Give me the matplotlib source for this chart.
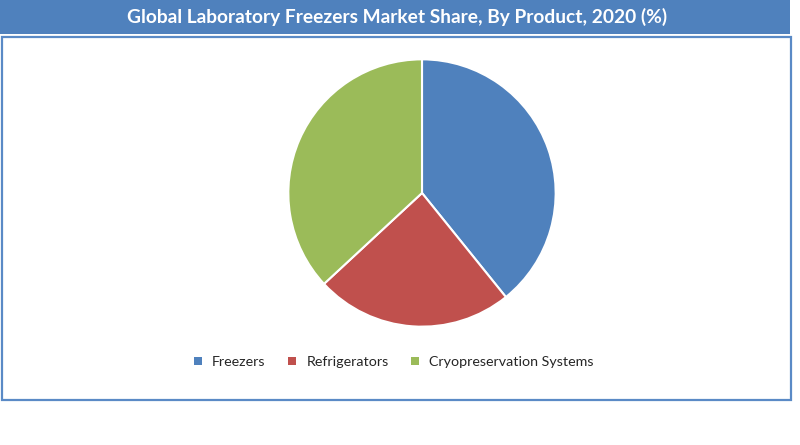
import matplotlib.pyplot as plt
from matplotlib.patches import Rectangle, Patch

title = 'Global Laboratory Freezers Market Share, By Product, 2020 (%)'
products = ['Freezers', 'Refrigerators', 'Cryopreservation Systems']
shares = [39.2, 23.9, 36.9]
colors = ['#4F81BD', '#C0504D', '#9BBB59']

W, H = 800, 445
fig = plt.figure(figsize=(8, 4.45), dpi=100)
fig.patch.set_facecolor('white')

# title bar
fig.patches.append(Rectangle((0, 1 - 34 / H), 790 / W, 34 / H, transform=fig.transFigure,
                             facecolor='#4F81BD', edgecolor='none', zorder=0))
fig.text(397 / W, 1 - 17 / H, title, color='white', fontsize=13.8, fontweight='bold',
         family='Lato', ha='center', va='center')

# chart frame
fig.patches.append(Rectangle((1.5 / W, 1 - 400 / H), 789 / W, 363 / H, transform=fig.transFigure,
                             facecolor='none', edgecolor='#5A8AC6', linewidth=1.6, zorder=0))

# pie
cx, cy, r = 422, 193, 135
ax = fig.add_axes([(cx - r) / W, 1 - (cy + r) / H, 2 * r / W, 2 * r / H])
ax.pie(shares, colors=colors, startangle=90, counterclock=False, radius=1,
       wedgeprops=dict(edgecolor='white', linewidth=1.5))
ax.set_xlim(-1.01, 1.01)
ax.set_ylim(-1.01, 1.01)
ax.set_aspect('equal')
ax.axis('off')

handles = [Patch(facecolor=c, edgecolor='none') for c in colors]
fig.legend(handles, products, loc='center', bbox_to_anchor=(394 / W, 1 - 362 / H), ncol=3,
           frameon=False, handlelength=0.55, handleheight=0.55, handletextpad=0.7,
           columnspacing=1.6, prop=dict(family='Lato', size=10.3), labelcolor='#262626')

fig.savefig('out.png', dpi=100)
